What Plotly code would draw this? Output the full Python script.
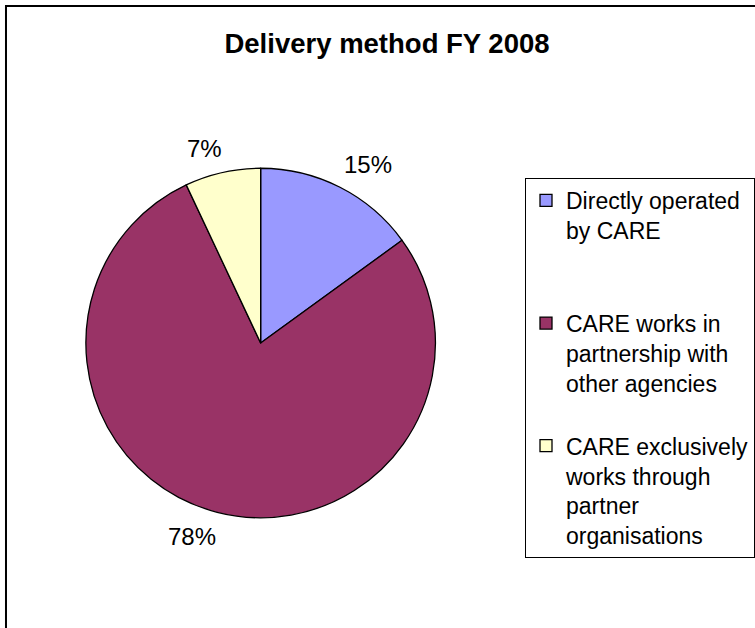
import math
import plotly.graph_objects as go

# ---- data ----
categories = [
    "Directly operated<br>by CARE<br><br>",
    "CARE works in<br>partnership with<br>other agencies<br>",
    "CARE exclusively<br>works through<br>partner<br>organisations",
]
values = [15, 78, 7]
colors = ["#9999FF", "#993366", "#FFFFCC"]
title_text = "Delivery method FY 2008"

# ---- layout constants ----
W, H = 755, 628
CX, CY, R = 261, 343, 175          # pie centre / radius in pixels
FONT = "Liberation Sans, Arial, sans-serif"
LABEL_FS = 24

fig = go.Figure()
fig.add_trace(go.Pie(
    labels=categories,
    values=values,
    sort=False,
    direction="clockwise",
    rotation=0,
    marker=dict(colors=colors, line=dict(color="black", width=1.3)),
    textinfo="none",
    hoverinfo="percent",
    domain=dict(x=[(CX - R) / W, (CX + R) / W],
                y=[1 - (CY + R) / H, 1 - (CY - R) / H]),
))

# percentage labels placed outside the slices, computed from the values
total = sum(values)
annotations = []
cum = 0.0
for v in values:
    mid = (cum + v / 2) / total * 2 * math.pi
    cum += v
    ux, uy = math.sin(mid), -math.cos(mid)
    txt = f"{round(100 * v / total)}%"
    w = 0.6 * LABEL_FS * len(txt)
    h = 0.75 * LABEL_FS
    dist = R + 15
    px = CX + dist * ux + (w / 2) * (1 if ux >= 0 else -1)
    py = CY + dist * uy + (h / 2) * (1 if uy >= 0 else -1)
    annotations.append(dict(
        x=px / W, y=1 - py / H, xref="paper", yref="paper",
        text=txt, showarrow=False, xanchor="center", yanchor="middle",
        font=dict(family=FONT, size=LABEL_FS, color="black"),
    ))

fig.update_layout(
    width=W, height=H,
    margin=dict(l=0, r=0, t=0, b=0),
    paper_bgcolor="white",
    plot_bgcolor="white",
    font=dict(family=FONT, color="black"),
    title=dict(
        text=f"<b>{title_text}</b>",
        x=387 / W, xanchor="center",
        y=1 - 43 / H, yanchor="middle",
        font=dict(family=FONT, size=27.5, color="black"),
    ),
    legend=dict(
        x=526 / W, y=1 - 178 / H, xanchor="left", yanchor="top",
        bgcolor="white", bordercolor="black", borderwidth=1,
        font=dict(family=FONT, size=23, color="black"),
        valign="top",
    ),
    annotations=annotations,
    shapes=[dict(
        type="rect", xref="paper", yref="paper",
        x0=6 / W, x1=1.2, y0=-0.2, y1=1 - 6 / H,
        line=dict(color="black", width=2), fillcolor="rgba(0,0,0,0)",
        layer="above",
    )],
)

fig.write_html("out.html", config={"displayModeBar": False},
               post_script="document.body.style.margin='0';")
